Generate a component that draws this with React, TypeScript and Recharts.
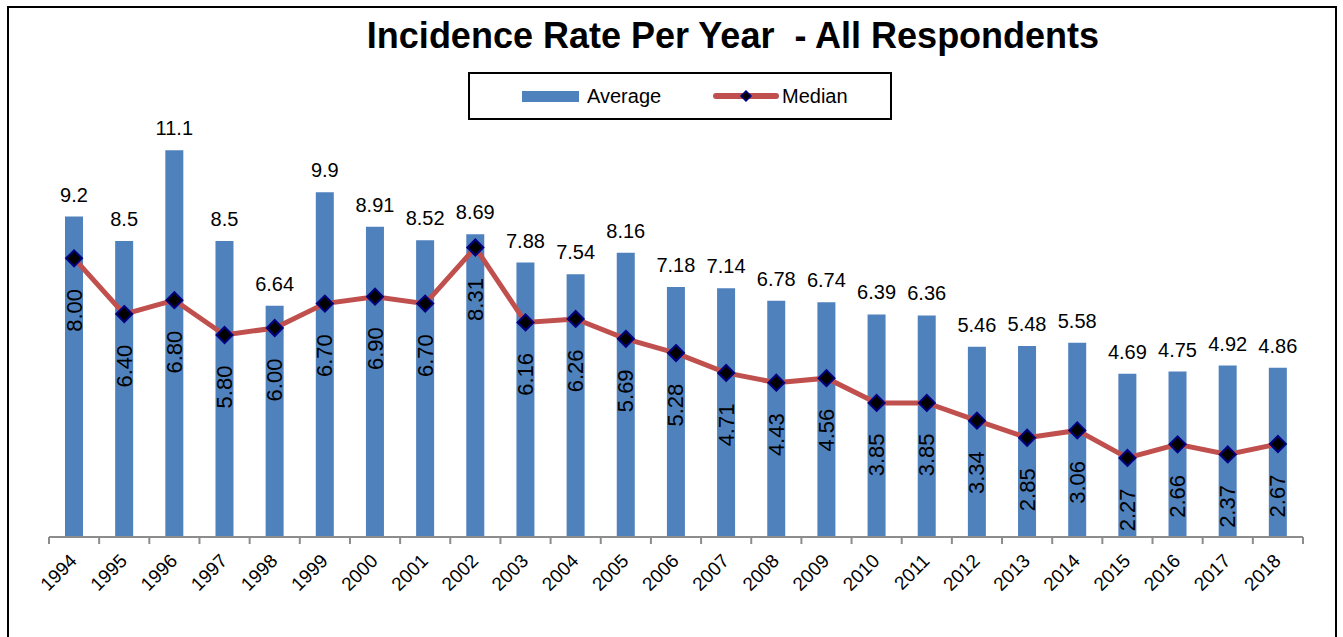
import React from 'react'
import { ComposedChart, Bar, Line, XAxis, YAxis, LabelList, Legend } from 'recharts'

const years = [
  '1994', '1995', '1996', '1997', '1998', '1999', '2000', '2001', '2002', '2003', '2004', '2005', '2006',
  '2007', '2008', '2009', '2010', '2011', '2012', '2013', '2014', '2015', '2016', '2017', '2018'
]
const averageRates = [
  9.2, 8.5, 11.1, 8.5, 6.64, 9.9, 8.91, 8.52, 8.69, 7.88, 7.54, 8.16, 7.18,
  7.14, 6.78, 6.74, 6.39, 6.36, 5.46, 5.48, 5.58, 4.69, 4.75, 4.92, 4.86
]
const medianRates = [
  8.0, 6.4, 6.8, 5.8, 6.0, 6.7, 6.9, 6.7, 8.31, 6.16, 6.26, 5.69, 5.28,
  4.71, 4.43, 4.56, 3.85, 3.85, 3.34, 2.85, 3.06, 2.27, 2.66, 2.37, 2.67
]

const data = years.map((year, i) => ({ year, avg: averageRates[i], median: medianRates[i] }))

const FONT = "'Liberation Sans', Arial, sans-serif"
const BLUE = '#4F81BD'
const RED = '#C0504D'

const W = 1343
const H = 637
const MARGIN = { top: 119, right: 40, bottom: 40, left: 49 }
const BAND = (W - MARGIN.left - MARGIN.right) / years.length

const YearTick = (props: any) => {
  const { x, y, payload, index } = props
  const axisY = y - 8
  const left = x - BAND / 2
  const ax = x + 4
  const ay = axisY + 25
  return (
    <g>
      <line x1={left} y1={axisY} x2={left} y2={axisY + 7} stroke="#8c8c8c" strokeWidth={2} />
      {index === years.length - 1 && (
        <line x1={x + BAND / 2} y1={axisY} x2={x + BAND / 2} y2={axisY + 7} stroke="#8c8c8c" strokeWidth={2} />
      )}
      <text
        x={ax}
        y={ay}
        textAnchor="end"
        transform={`rotate(-45 ${ax} ${ay})`}
        fontSize={19}
        fontFamily={FONT}
        fill="#000"
      >
        {payload.value}
      </text>
    </g>
  )
}

const Diamond = (props: any) => {
  const { cx, cy } = props
  if (cx == null || cy == null) return null
  const r = 8
  return (
    <polygon
      points={`${cx},${cy - r} ${cx + r},${cy} ${cx},${cy + r} ${cx - r},${cy}`}
      fill="#000"
      stroke="#000080"
      strokeWidth={2}
    />
  )
}

const MedianLabel = (props: any) => {
  const vb = props.viewBox || {}
  const x = vb.x ?? props.x
  const y = vb.y ?? props.y
  if (x == null || y == null) return null
  const ty = y + 52
  return (
    <text
      x={x}
      y={ty}
      textAnchor="middle"
      dominantBaseline="central"
      transform={`rotate(-90 ${x} ${ty})`}
      fontSize={22}
      fontFamily={FONT}
      fill="#000"
    >
      {Number(props.value).toFixed(2)}
    </text>
  )
}

const LegendBox = () => (
  <div
    style={{
      position: 'relative',
      width: 424,
      height: 48,
      border: '2px solid #000',
      boxSizing: 'border-box',
      background: '#fff',
      fontFamily: FONT,
      fontSize: 20,
      color: '#000'
    }}
  >
    <div style={{ position: 'absolute', left: 52, top: 17, width: 57, height: 11, background: BLUE }} />
    <div style={{ position: 'absolute', left: 117, top: 10, lineHeight: '24px' }}>Average</div>
    <svg style={{ position: 'absolute', left: 243, top: 12 }} width={66} height={20}>
      <line x1={3} y1={10} x2={63} y2={10} stroke={RED} strokeWidth={6} strokeLinecap="round" />
      <polygon points="33,5 38,10 33,15 28,10" fill="#000" stroke="#000080" strokeWidth={1.5} />
    </svg>
    <div style={{ position: 'absolute', left: 312, top: 10, lineHeight: '24px' }}>Median</div>
  </div>
)

export default function App() {
  return (
    <div style={{ position: 'absolute', left: 0, top: 0, width: W, height: H, background: '#fff', overflow: 'hidden' }}>
      <div
        style={{
          position: 'absolute',
          left: 7,
          top: 6,
          width: 1330,
          height: 660,
          border: '2px solid #000',
          boxSizing: 'border-box'
        }}
      />
      <div
        style={{
          position: 'absolute',
          left: 333,
          top: 18,
          width: 800,
          textAlign: 'center',
          fontFamily: FONT,
          fontWeight: 'bold',
          fontSize: 36,
          lineHeight: '36px',
          whiteSpace: 'pre'
        }}
      >
        {'Incidence Rate Per Year  - All Respondents'}
      </div>
      <div style={{ position: 'absolute', left: 0, top: 0 }}>
        <ComposedChart width={W} height={H} data={data} margin={MARGIN}>
          <XAxis
            dataKey="year"
            height={60}
            interval={0}
            tickLine={false}
            axisLine={{ stroke: '#8c8c8c', strokeWidth: 2 }}
            tick={<YearTick />}
          />
          <YAxis hide domain={[0, 12]} />
          <Legend
            verticalAlign="middle"
            align="center"
            layout="horizontal"
            wrapperStyle={{ left: 468, top: 72, width: 424, height: 48 }}
            content={() => <LegendBox />}
          />
          <Bar dataKey="avg" name="Average" fill={BLUE} barSize={18} isAnimationActive={false}>
            <LabelList
              dataKey="avg"
              position="top"
              offset={15}
              fontSize={20}
              fontFamily={FONT}
              fill="#000"
            />
          </Bar>
          <Line
            type="linear"
            dataKey="median"
            name="Median"
            stroke={RED}
            strokeWidth={5}
            dot={<Diamond />}
            activeDot={false}
            isAnimationActive={false}
          >
            <LabelList dataKey="median" content={<MedianLabel />} />
          </Line>
        </ComposedChart>
      </div>
    </div>
  )
}
